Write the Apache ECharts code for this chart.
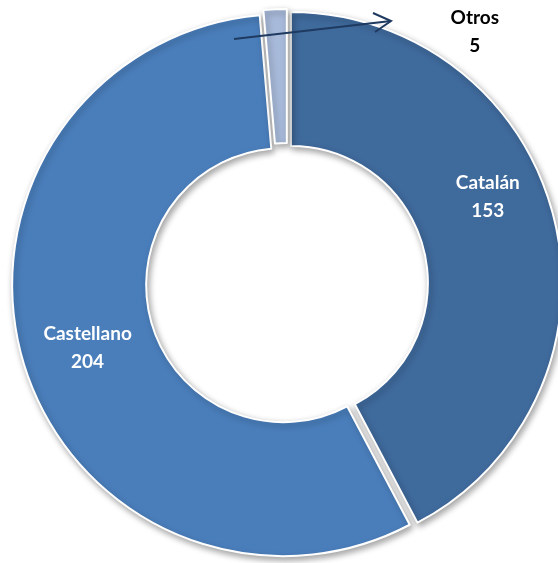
<!DOCTYPE html>
<html>
<head>
<meta charset="utf-8">
<script src="https://cdn.jsdelivr.net/npm/echarts@6/dist/echarts.min.js"></script>
<style>
  html, body { margin: 0; padding: 0; background: #ffffff; }
  #chart { width: 558px; height: 563px; }
</style>
</head>
<body>
<div id="chart"></div>
<script>
// Lenguas: número de respuestas por idioma
const categories = ['Catalán', 'Castellano', 'Otros'];
const values = [153, 204, 5];
const colors = ['#3f6a9c', '#4a7ebb', '#a8bada'];

// Label colours and nudges per slice (the thin slice gets its label outside the ring)
const labelColors = ['#ffffff', '#ffffff', '#000000'];
const labelShift = [[-4, -36], [3, 4], [197, -41]];

const chart = echarts.init(document.getElementById('chart'), null, { renderer: 'canvas' });

const data = categories.map((name, i) => ({
  name: name,
  value: values[i],
  selected: true,
  itemStyle: { color: colors[i] },
  label: { color: labelColors[i] }
}));

chart.setOption({
  animation: false,
  backgroundColor: '#ffffff',
  series: [{
    type: 'pie',
    center: [287, 284],
    radius: [137, 271],
    startAngle: 90,
    clockwise: true,
    selectedMode: 'multiple',
    selectedOffset: 4,
    avoidLabelOverlap: false,
    silent: true,
    itemStyle: {
      borderColor: '#ffffff',
      borderWidth: 2,
      shadowBlur: 6,
      shadowOffsetX: 2,
      shadowOffsetY: 3,
      shadowColor: 'rgba(0,0,0,0.35)'
    },
    label: {
      show: true,
      position: 'inside',
      formatter: '{b}\n{c}',
      fontFamily: 'Lato',
      fontWeight: 'bold',
      fontSize: 19,
      lineHeight: 28,
      align: 'center'
    },
    labelLayout: function (params) {
      const s = labelShift[params.dataIndex];
      return { dx: s[0], dy: s[1] };
    },
    labelLine: { show: false },
    emphasis: { disabled: true },
    data: data
  }],
  graphic: [{
    // annotation arrow pointing to the small slice's label
    type: 'group',
    silent: true,
    z: 100,
    children: [
      {
        type: 'line',
        z: 100,
        shape: { x1: 234, y1: 39, x2: 391, y2: 21 },
        style: { stroke: '#1f3a60', lineWidth: 2 }
      },
      {
        type: 'polyline',
        z: 100,
        shape: { points: [[373, 13], [391, 21], [375, 32]] },
        style: { stroke: '#1f3a60', lineWidth: 2, fill: null }
      }
    ]
  }]
});
</script>
</body>
</html>
